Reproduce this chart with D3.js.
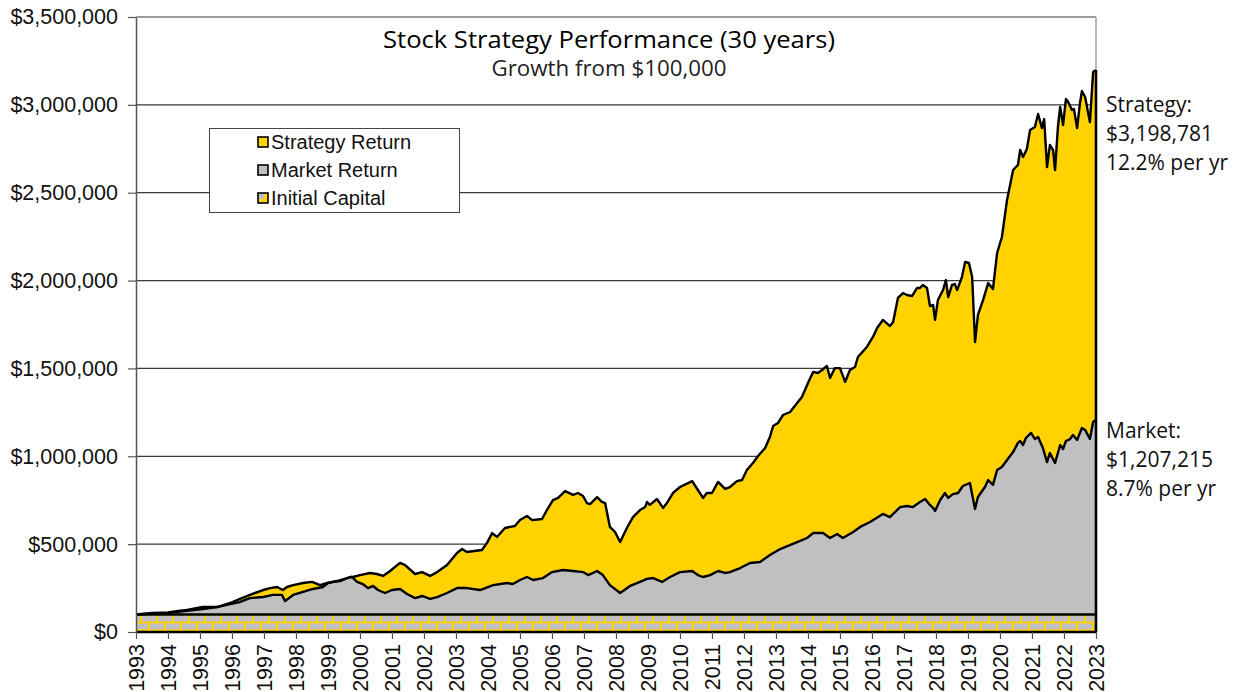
<!DOCTYPE html>
<html>
<head>
<meta charset="utf-8">
<script src="https://cdn.jsdelivr.net/npm/d3@7"></script>
<style>
  body { margin: 0; background: #fff; }
  svg { display: block; }
</style>
</head>
<body>
<script>
// values, $ thousands
var stratYears = [1993.00,1993.50,1994.00,1994.31,1994.59,1995.09,1995.53,1995.94,1996.25,1996.56,
  1996.97,1997.19,1997.41,1997.59,1997.72,1997.91,1998.22,1998.50,1998.75,1998.97,
  1999.16,1999.38,1999.69,1999.78,2000.00,2000.31,2000.53,2000.72,2000.94,2001.25,
  2001.41,2001.72,2001.94,2002.19,2002.41,2002.72,2003.03,2003.19,2003.34,2003.81,
  2003.97,2004.13,2004.28,2004.53,2004.69,2004.84,2005.00,2005.22,2005.38,2005.69,
  2005.84,2006.03,2006.19,2006.41,2006.66,2006.81,2006.97,2007.09,2007.19,2007.41,
  2007.56,2007.66,2007.81,2007.97,2008.13,2008.34,2008.53,2008.75,2008.91,2008.97,
  2009.06,2009.28,2009.47,2009.59,2009.78,2010.00,2010.38,2010.56,2010.72,2010.84,
  2011.00,2011.19,2011.41,2011.56,2011.78,2011.94,2012.09,2012.28,2012.44,2012.66,
  2012.81,2012.91,2013.06,2013.22,2013.44,2013.66,2013.81,2014.00,2014.16,2014.31,
  2014.44,2014.59,2014.69,2014.84,2015.00,2015.16,2015.31,2015.47,2015.56,2015.84,
  2016.03,2016.16,2016.34,2016.56,2016.66,2016.81,2016.97,2017.09,2017.25,2017.41,
  2017.50,2017.59,2017.72,2017.81,2017.91,2017.97,2018.06,2018.22,2018.31,2018.38,
  2018.50,2018.59,2018.66,2018.81,2018.91,2019.03,2019.13,2019.22,2019.31,2019.47,
  2019.63,2019.78,2019.91,2020.06,2020.22,2020.41,2020.56,2020.63,2020.72,2020.84,
  2020.94,2021.09,2021.19,2021.31,2021.38,2021.47,2021.56,2021.66,2021.72,2021.81,
  2021.88,2021.97,2022.06,2022.13,2022.25,2022.31,2022.41,2022.50,2022.56,2022.66,
  2022.81,2022.91,2023.00];
var stratK = [100,108,111,120,125,142,142,165,188,211,
  239,250,256,239,256,267,279,285,267,279,
  285,290,313,313,324,336,330,319,347,393,
  381,330,341,319,341,381,450,472,455,467,
  507,563,541,592,598,603,637,660,637,643,
  694,751,763,802,780,791,774,734,728,768,
  740,734,598,569,512,592,654,694,711,740,
  723,757,706,734,791,825,859,808,763,791,
  791,854,814,825,859,865,922,962,1002,1047,
  1110,1172,1189,1235,1252,1303,1337,1417,1480,1474,
  1491,1514,1446,1502,1502,1423,1491,1508,1565,1622,
  1679,1730,1776,1741,1764,1901,1929,1918,1912,1958,
  1958,1975,1958,1855,1861,1776,1889,1946,2003,1906,
  1975,1980,1946,2020,2106,2100,2020,1650,1804,1889,
  1986,1952,2157,2248,2459,2629,2658,2743,2703,2749,
  2857,2874,2948,2868,2919,2646,2772,2743,2629,2874,
  2988,2885,3033,3016,2971,2976,2868,3011,3079,3045,
  2902,3187,3199];

var mktYears = [1993.00,1994.00,1994.59,1995.09,1995.53,1995.94,1996.25,1996.56,1996.97,1997.28,
  1997.56,1997.66,1997.91,1998.22,1998.53,1998.84,1999.00,1999.28,1999.59,1999.75,
  1999.91,2000.09,2000.25,2000.41,2000.56,2000.78,2001.00,2001.25,2001.47,2001.72,
  2001.94,2002.19,2002.41,2002.72,2003.03,2003.34,2003.75,2004.16,2004.59,2004.78,
  2005.00,2005.22,2005.41,2005.72,2006.00,2006.34,2006.66,2006.97,2007.13,2007.41,
  2007.59,2007.81,2008.13,2008.44,2008.75,2008.97,2009.16,2009.44,2009.69,2010.00,
  2010.38,2010.56,2010.72,2010.94,2011.19,2011.41,2011.56,2011.88,2012.19,2012.50,
  2012.81,2013.13,2013.66,2013.97,2014.16,2014.47,2014.69,2014.91,2015.09,2015.41,
  2015.63,2015.94,2016.34,2016.56,2016.88,2017.09,2017.28,2017.50,2017.66,2017.81,
  2017.91,2017.97,2018.13,2018.28,2018.38,2018.53,2018.69,2018.84,2019.06,2019.22,
  2019.31,2019.53,2019.63,2019.78,2019.91,2020.06,2020.22,2020.41,2020.56,2020.63,
  2020.72,2020.81,2020.97,2021.09,2021.19,2021.34,2021.47,2021.56,2021.72,2021.88,
  2021.97,2022.06,2022.19,2022.28,2022.41,2022.56,2022.66,2022.81,2022.91,2023.00];
var mktK = [100,108,120,131,142,159,171,193,199,211,
  211,176,211,228,245,256,279,290,307,313,
  285,273,250,262,239,222,239,245,216,193,
  205,188,199,222,250,250,239,267,279,273,
  296,313,296,307,341,353,347,341,324,347,
  324,267,222,262,285,302,307,285,313,341,
  347,324,313,324,347,336,341,364,393,398,
  438,472,512,535,563,563,535,558,535,569,
  598,626,672,654,711,717,711,740,757,723,
  706,689,751,791,763,785,791,831,848,700,
  768,825,865,837,922,939,979,1024,1076,1087,
  1064,1104,1133,1098,1110,1047,967,1019,962,1064,
  1041,1087,1098,1121,1093,1161,1150,1098,1195,1207];

var initialCapital = 100000;
var yearTicks = d3.range(1993, 2024);
var valueTicks = d3.range(0, 3500001, 500000);
var legendLabels = ["Strategy Return", "Market Return", "Initial Capital"];
var endNotes = [
  ["Strategy:", "$3,198,781", "12.2% per yr"],
  ["Market:", "$1,207,215", "8.7% per yr"]
];

var W = 1238, H = 692;
var plotL = 136, plotR = 1096, plotT = 17, plotB = 632;
var YELLOW = "#FFD200", GRAY = "#C0C0C0";
var axisFont = "'Liberation Sans', Arial, sans-serif";
var titleFont = "'Open Sans', 'Noto Sans', sans-serif";

var svg = d3.select("body").append("svg").attr("width", W).attr("height", H);

var x = d3.scaleLinear().domain([1993, 2023]).range([plotL, plotR]);
var y = d3.scaleLinear().domain([0, 3500000]).range([plotB, plotT]);

var strat = stratYears.map(function (d, i) { return [d, stratK[i] * 1000]; });
var mkt = mktYears.map(function (d, i) { return [d, mktK[i] * 1000]; });

// brick pattern for the initial capital band
var defs = svg.append("defs");
var pat = defs.append("pattern").attr("id", "brick")
  .attr("patternUnits", "userSpaceOnUse")
  .attr("x", plotL).attr("y", y(initialCapital))
  .attr("width", 16).attr("height", 16);
pat.append("rect").attr("width", 16).attr("height", 16).attr("fill", GRAY);
pat.append("rect").attr("x", 0).attr("y", 7).attr("width", 16).attr("height", 2).attr("fill", YELLOW);
pat.append("rect").attr("x", 0).attr("y", 15).attr("width", 16).attr("height", 1.5).attr("fill", YELLOW);
pat.append("rect").attr("x", 0).attr("y", 0).attr("width", 16).attr("height", 1).attr("fill", YELLOW);
pat.append("rect").attr("x", 4).attr("y", 0).attr("width", 2).attr("height", 8).attr("fill", YELLOW);
pat.append("rect").attr("x", 12).attr("y", 8).attr("width", 2).attr("height", 8).attr("fill", YELLOW);

// gridlines
svg.append("g").selectAll("line").data(valueTicks.slice(1)).enter().append("line")
  .attr("x1", plotL).attr("x2", plotR)
  .attr("y1", function (d) { return y(d); }).attr("y2", function (d) { return y(d); })
  .attr("stroke", "#3a3a3a").attr("stroke-width", 1.2);

var area = d3.area()
  .x(function (d) { return x(d[0]); })
  .y0(y(0))
  .y1(function (d) { return y(d[1]); });
var line = d3.line()
  .x(function (d) { return x(d[0]); })
  .y(function (d) { return y(d[1]); });

svg.append("path").datum(strat).attr("d", area).attr("fill", YELLOW);
svg.append("path").datum(mkt).attr("d", area).attr("fill", GRAY);
svg.append("rect")
  .attr("x", plotL).attr("y", y(initialCapital))
  .attr("width", plotR - plotL).attr("height", y(0) - y(initialCapital))
  .attr("fill", "url(#brick)");

// series outlines
svg.append("path").datum(strat).attr("d", line)
  .attr("fill", "none").attr("stroke", "#000").attr("stroke-width", 2.4).attr("stroke-linejoin", "round");
svg.append("path").datum(mkt).attr("d", line)
  .attr("fill", "none").attr("stroke", "#000").attr("stroke-width", 2.4).attr("stroke-linejoin", "round");
svg.append("line")
  .attr("x1", plotL).attr("x2", plotR)
  .attr("y1", y(initialCapital)).attr("y2", y(initialCapital))
  .attr("stroke", "#000").attr("stroke-width", 2.4);
svg.append("line")
  .attr("x1", plotR).attr("x2", plotR)
  .attr("y1", y(strat[strat.length - 1][1])).attr("y2", y(0))
  .attr("stroke", "#000").attr("stroke-width", 2.6);

// plot frame
svg.append("line").attr("x1", plotR).attr("x2", plotR).attr("y1", plotT).attr("y2", y(strat[strat.length - 1][1]))
  .attr("stroke", "#888").attr("stroke-width", 1.2);
svg.append("line").attr("x1", plotL).attr("x2", plotR).attr("y1", plotB).attr("y2", plotB)
  .attr("stroke", "#000").attr("stroke-width", 2.4);

// y axis
var yAxis = svg.append("g").attr("transform", "translate(" + plotL + ",0)")
  .call(d3.axisLeft(y).tickValues(valueTicks).tickFormat(d3.format("$,")).tickSizeInner(8).tickSizeOuter(0).tickPadding(10));
yAxis.select(".domain").attr("stroke", "#555").attr("stroke-width", 1.5);
yAxis.selectAll(".tick line").attr("stroke", "#555").attr("stroke-width", 1.2);
yAxis.selectAll("text").attr("font-family", axisFont)
  .attr("font-size", 21.5).attr("fill", "#111");

// x axis
var xAxis = svg.append("g").attr("transform", "translate(0," + plotB + ")")
  .call(d3.axisBottom(x).tickValues(yearTicks).tickFormat(d3.format("d")).tickSizeInner(7).tickSizeOuter(0));
xAxis.select(".domain").remove();
xAxis.selectAll(".tick line").attr("stroke", "#555").attr("stroke-width", 1.2);
xAxis.selectAll("text")
  .attr("font-family", axisFont)
  .attr("font-size", 21.5).attr("fill", "#111")
  .attr("transform", "rotate(-90)")
  .attr("text-anchor", "end")
  .attr("x", -12).attr("y", 0).attr("dy", "0.35em");

// title
svg.append("text").attr("x", 609).attr("y", 48).attr("text-anchor", "middle")
  .attr("font-family", titleFont).attr("font-size", 24).attr("fill", "#000")
  .attr("textLength", 452).attr("lengthAdjust", "spacingAndGlyphs")
  .text("Stock Strategy Performance (30 years)");
svg.append("text").attr("x", 609).attr("y", 76).attr("text-anchor", "middle")
  .attr("font-family", titleFont).attr("font-size", 21).attr("fill", "#222")
  .attr("textLength", 235).attr("lengthAdjust", "spacingAndGlyphs")
  .text("Growth from $100,000");

// legend
var lg = svg.append("g");
lg.append("rect").attr("x", 209.5).attr("y", 128.5).attr("width", 250).attr("height", 84)
  .attr("fill", "#fff").attr("stroke", "#444").attr("stroke-width", 1);
var swatchFill = [YELLOW, GRAY, "url(#swatchPat)"];
var sp = defs.append("pattern").attr("id", "swatchPat").attr("patternUnits", "objectBoundingBox")
  .attr("width", 1).attr("height", 1);
sp.append("rect").attr("width", 10).attr("height", 10).attr("fill", YELLOW);
sp.append("rect").attr("width", 6).attr("height", 6).attr("fill", GRAY);
legendLabels.forEach(function (name, i) {
  var cy = 142 + i * 28;
  lg.append("rect").attr("x", 258).attr("y", cy - 5).attr("width", 10).attr("height", 10)
    .attr("fill", swatchFill[i]).attr("stroke", "#000").attr("stroke-width", 1.6);
  lg.append("text").attr("x", 271).attr("y", cy).attr("dy", "0.35em")
    .attr("font-family", axisFont).attr("font-size", 20)
    .attr("fill", "#111").text(name);
});

// end-of-series notes
var noteTops = [112, 438];
endNotes.forEach(function (lines, j) {
  lines.forEach(function (t, k) {
    svg.append("text").attr("x", 1106).attr("y", noteTops[j] + k * 29)
      .attr("font-family", titleFont).attr("font-size", 21).attr("fill", "#111").text(t);
  });
});
</script>
</body>
</html>
